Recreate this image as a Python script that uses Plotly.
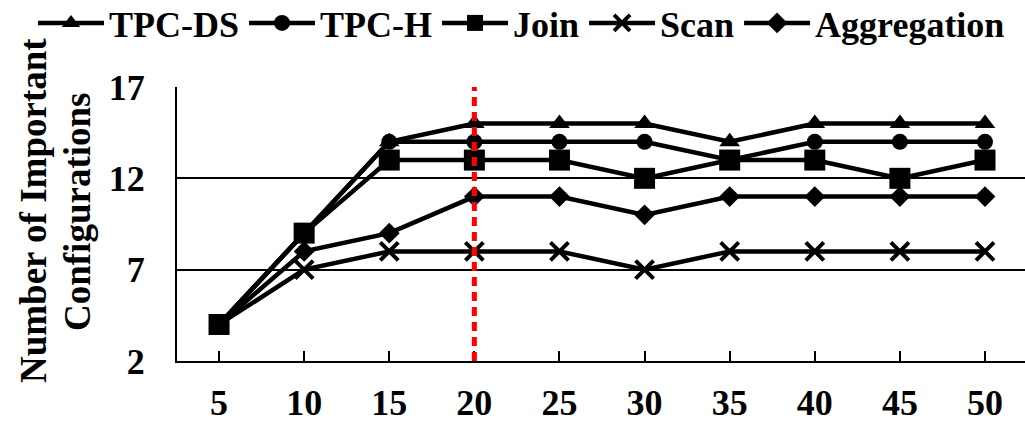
import plotly.graph_objects as go

x_vals = [5, 10, 15, 20, 25, 30, 35, 40, 45, 50]
tpc_ds = [4, 9, 14, 15, 15, 15, 14, 15, 15, 15]
tpc_h = [4, 9, 14, 14, 14, 14, 13, 14, 14, 14]
join = [4, 9, 13, 13, 13, 12, 13, 13, 12, 13]
scan = [4, 7, 8, 8, 8, 7, 8, 8, 8, 8]
aggregation = [4, 8, 9, 11, 11, 10, 11, 11, 11, 11]
y_ticks = [2, 7, 12, 17]
marker_x = 20

FONT = "Liberation Serif"
FS = 36

series = [
    ("TPC-DS", tpc_ds, "triangle-up", 18),
    ("TPC-H", tpc_h, "circle", 16),
    ("Join", join, "square", 21),
    ("Scan", scan, "x-thin", 18),
    ("Aggregation", aggregation, "diamond", 16),
]

fig = go.Figure()
for name, ys, sym, size in series:
    marker = dict(symbol=sym, size=size, color="black")
    if sym == "x-thin":
        marker["line"] = dict(width=4, color="black")
    else:
        marker["line"] = dict(width=0)
    fig.add_trace(go.Scatter(
        x=x_vals, y=ys, name=name, mode="lines+markers",
        line=dict(color="black", width=4.5),
        marker=marker,
    ))

fig.add_shape(type="line", xref="x", yref="y", x0=marker_x, x1=marker_x,
              y0=min(y_ticks), y1=max(y_ticks),
              line=dict(color="red", width=5, dash="9px,6px"), layer="above")

W, H = 1025, 423
PL, PR, PT, PB = 177, 1025, 87, 361  # plot area in window pixels

def fx(p):
    return p / W

def fy(p):
    return (H - p) / H

fig.update_layout(
    width=W, height=H,
    margin=dict(l=0, r=0, t=0, b=0, autoexpand=False),
    paper_bgcolor="white", plot_bgcolor="white",
    font=dict(family=FONT, color="black", size=FS),
    showlegend=True,
    legend=dict(orientation="h", x=fx(33), y=fy(23), xanchor="left", yanchor="middle",
                font=dict(family=FONT, size=36, color="black", weight="bold"),
                itemwidth=66, tracegroupgap=0, bgcolor="rgba(0,0,0,0)"),
    xaxis=dict(domain=[fx(PL), fx(PR)], range=[2.53, 52.35], tickvals=x_vals,
               ticktext=[str(v) for v in x_vals], automargin=False,
               showgrid=False, zeroline=False, showline=True, linecolor="black", linewidth=2,
               ticks="inside", ticklen=10, tickwidth=1.5, tickcolor="black",
               tickfont=dict(family=FONT, size=FS, weight="bold"), ticklabelstandoff=9),
    yaxis=dict(domain=[fy(PB), fy(PT)], range=[2, 17], tickvals=y_ticks, showgrid=True,
               gridcolor="black", gridwidth=1.5, automargin=False,
               zeroline=False, showline=True, linecolor="black", linewidth=2, ticks="",
               tickfont=dict(family=FONT, size=FS, weight="bold"), ticklabelstandoff=23),
    annotations=[
        dict(text="<b>Number of Important</b>", textangle=-90, xref="paper", yref="paper",
             x=fx(33), y=fy(211), xanchor="center", yanchor="middle", showarrow=False,
             font=dict(family=FONT, size=37, color="black")),
        dict(text="<b>Configurations</b>", textangle=-90, xref="paper", yref="paper",
             x=fx(77), y=fy(212), xanchor="center", yanchor="middle", showarrow=False,
             font=dict(family=FONT, size=37, color="black")),
    ],
)

fig.write_html("out.html",
               config={"displayModeBar": False},
               post_script="document.body.style.margin='0';document.body.style.overflow='hidden';")
